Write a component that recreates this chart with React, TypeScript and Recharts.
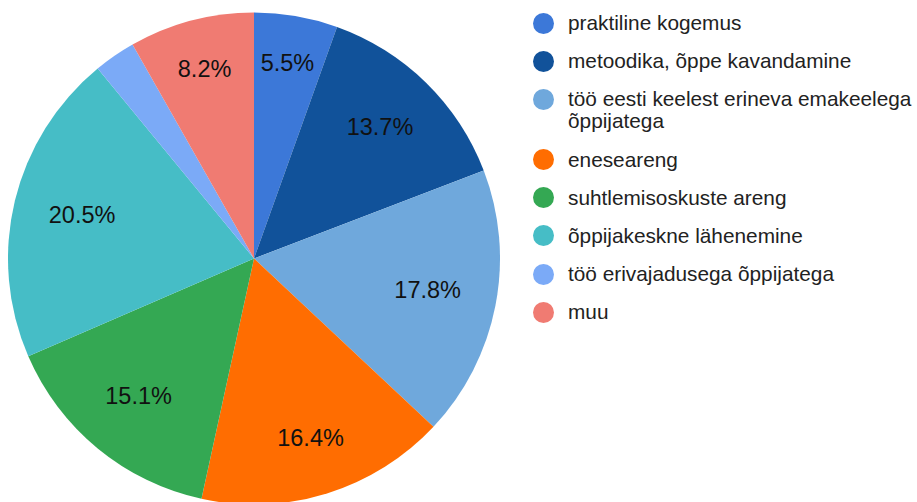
import { Legend, Pie, PieChart, Cell } from 'recharts';

document.body.style.margin = '0';

const categories = [
  'praktiline kogemus',
  'metoodika, õppe kavandamine',
  'töö eesti keelest erineva emakeelega õppijatega',
  'eneseareng',
  'suhtlemisoskuste areng',
  'õppijakeskne lähenemine',
  'töö erivajadusega õppijatega',
  'muu',
];
const counts = [4, 10, 13, 12, 11, 15, 2, 6];
const colors = ['#3c78d8', '#11529a', '#6fa8dc', '#ff6d01', '#34a853', '#46bdc6', '#7baaf7', '#f07b72'];

const data = categories.map((name, i) => ({ name, value: counts[i] }));

const FONT = '"Liberation Sans", Arial, sans-serif';
const RAD = Math.PI / 180;

function renderLabel(props: any) {
  const { cx, cy, midAngle, percent } = props;
  if (percent < 0.03) return null;
  const text = `${(percent * 100).toFixed(1)}%`;
  const size = 23.5;
  const digits = text.length - 2;
  const hw = ((digits * 0.556 + 0.278 + 0.889) * size) / 2;
  const hh = 12;
  const a = -midAngle * RAD;
  const r = 212 - (Math.abs(Math.cos(a)) * hw + Math.abs(Math.sin(a)) * hh);
  const x = cx + r * Math.cos(a);
  const y = cy + r * Math.sin(a) - 2.5;
  return (
    <text
      x={x}
      y={y}
      fill="#111"
      fontSize={size}
      fontFamily={FONT}
      textAnchor="middle"
      dominantBaseline="central"
    >
      {text}
    </text>
  );
}

function LegendList() {
  return (
    <div style={{ fontFamily: FONT, fontSize: 20.8, color: '#222', paddingTop: 12 }}>
      {data.map((d, i) => (
        <div key={d.name} style={{ display: 'flex', alignItems: 'flex-start', marginBottom: 16.2, lineHeight: '22px' }}>
          <span
            style={{
              width: 21,
              height: 21,
              borderRadius: '50%',
              background: colors[i],
              flex: '0 0 21px',
              marginLeft: 1,
              marginTop: 0.5,
            }}
          />
          <span style={{ marginLeft: 14, width: 350 }}>{d.name}</span>
        </div>
      ))}
    </div>
  );
}

export default function App() {
  return (
    <div style={{ width: 917, height: 502, background: '#fff' }}>
      <PieChart width={917} height={502} margin={{ top: 0, right: 0, bottom: 0, left: 0 }}>
        <Pie
          data={data}
          dataKey="value"
          nameKey="name"
          cx={254}
          cy={258.5}
          outerRadius={246}
          startAngle={90}
          endAngle={-270}
          stroke="none"
          labelLine={false}
          label={renderLabel}
          isAnimationActive={false}
        >
          {data.map((d, i) => (
            <Cell key={d.name} fill={colors[i]} />
          ))}
        </Pie>
        <Legend
          content={() => <LegendList />}
          wrapperStyle={{ position: 'absolute', left: 532, top: 0, width: 385 }}
        />
      </PieChart>
    </div>
  );
}
